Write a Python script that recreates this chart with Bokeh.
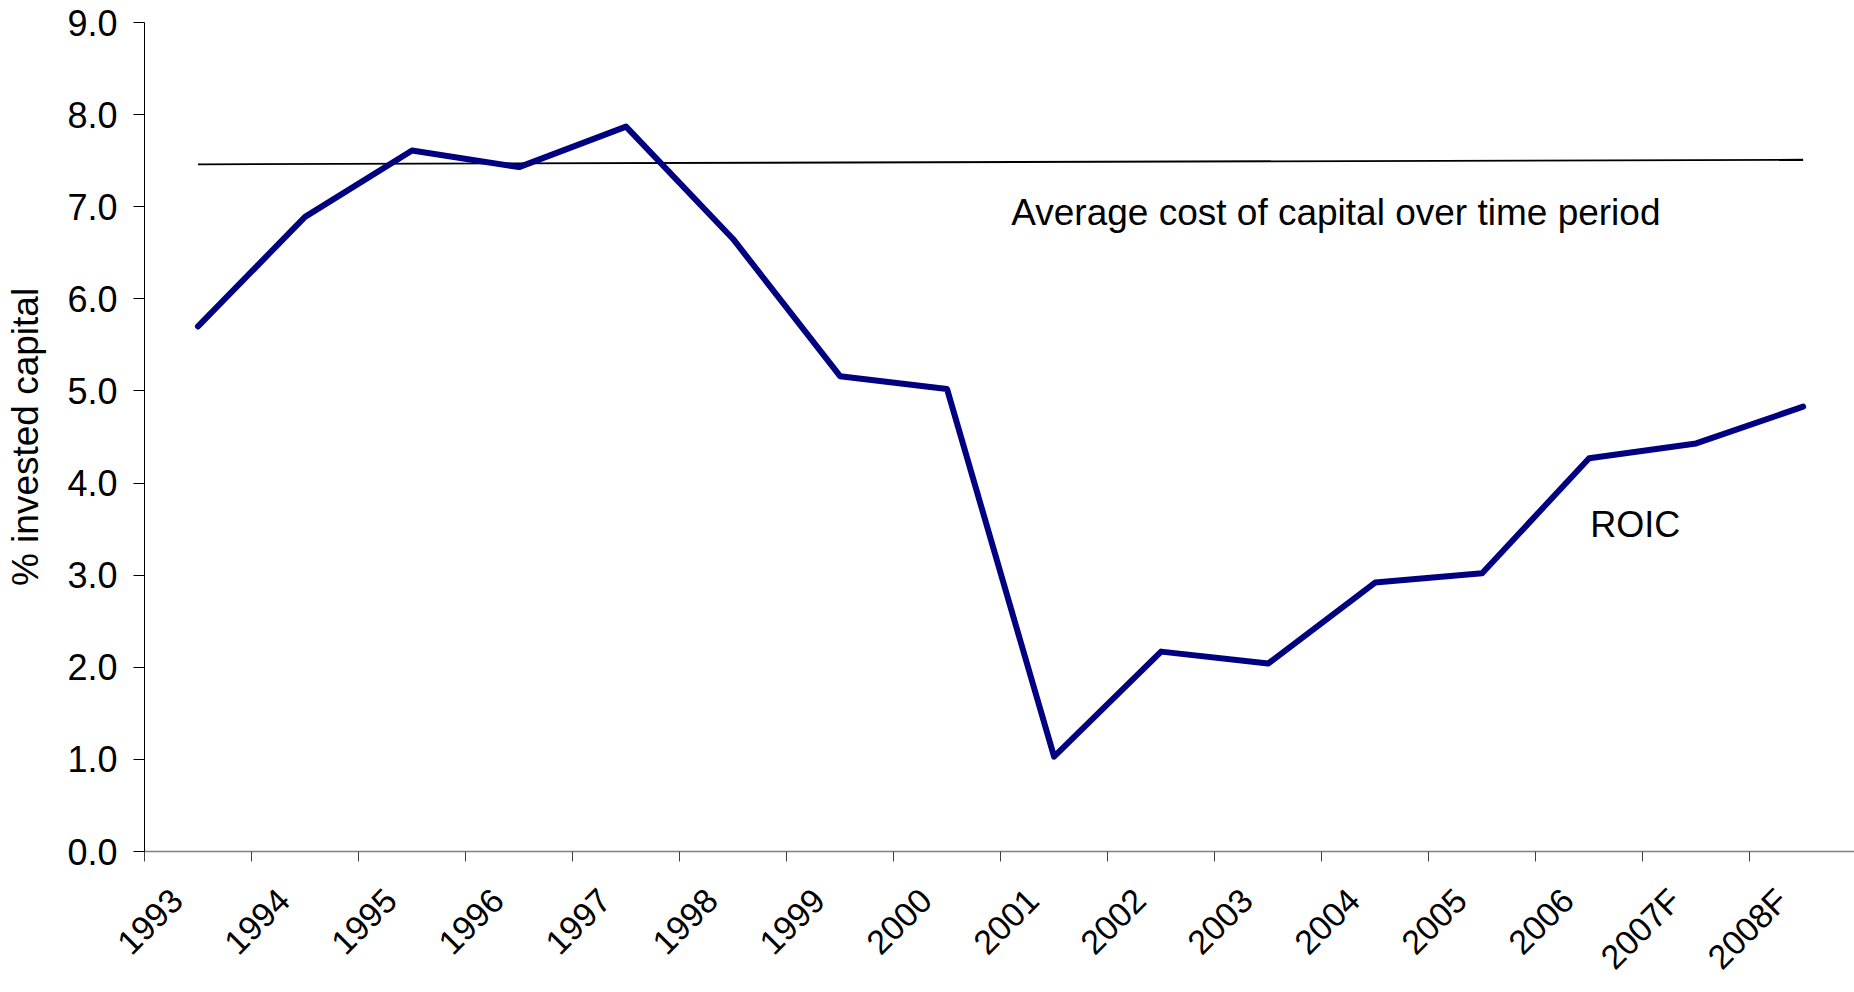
import math
from bokeh.plotting import figure
from bokeh.models import Range1d, FixedTicker, Label, PrintfTickFormatter
from bokeh.embed import file_html
from bokeh.resources import INLINE

# ---- data ----
years = ["1993", "1994", "1995", "1996", "1997", "1998", "1999", "2000",
         "2001", "2002", "2003", "2004", "2005", "2006", "2007F", "2008F"]
roic = [5.70, 6.89, 7.61, 7.43, 7.87, 6.65, 5.16, 5.02,
        1.03, 2.17, 2.04, 2.92, 3.02, 4.27, 4.43, 4.83]
coc_years = ["1993", "2008F"]
coc = [7.46, 7.51]
y_ticks = [0, 1, 2, 3, 4, 5, 6, 7, 8, 9]

FONT = "Liberation Sans"
LABEL_SHIFT = 0.2  # rotated labels end a little left of the category centre

centers = [i + 0.5 for i in range(len(years))]
boundaries = [i for i in range(len(years) + 1)]
label_pos = [round(c - LABEL_SHIFT, 3) for c in centers]
coc_x = [years.index(y) + 0.5 for y in coc_years]

p = figure(width=1854, height=992,
           x_range=Range1d(0, 15.98), y_range=Range1d(0, 9),
           output_backend="svg", toolbar_location=None,
           min_border_left=144, min_border_right=0,
           min_border_top=22, min_border_bottom=0)
p.outline_line_color = None
p.grid.visible = False
p.background_fill_color = "white"
p.border_fill_color = "white"

# y axis
ya = p.yaxis[0]
ya.ticker = FixedTicker(ticks=y_ticks, minor_ticks=[])
ya.formatter = PrintfTickFormatter(format="%.1f")
ya.major_tick_out = 11
ya.major_tick_in = 0
ya.minor_tick_out = 0
ya.minor_tick_in = 0
ya.axis_line_color = "black"
ya.major_tick_line_color = "black"
ya.major_label_standoff = 16
ya.major_label_text_font = FONT
ya.major_label_text_font_size = "36px"
ya.major_label_text_color = "black"
ya.axis_label = "% invested capital"
ya.axis_label_text_font = FONT
ya.axis_label_text_font_size = "37px"
ya.axis_label_text_font_style = "normal"
ya.axis_label_text_color = "black"
ya.axis_label_standoff = 18

# x axis: tick marks (minor) at category boundaries, rotated labels near centres
xa = p.xaxis[0]
xa.ticker = FixedTicker(ticks=label_pos, minor_ticks=boundaries)
xa.major_label_overrides = {lp: y for lp, y in zip(label_pos, years)}
xa.major_tick_out = 0
xa.major_tick_in = 0
xa.minor_tick_out = 10
xa.minor_tick_in = 0
xa.minor_tick_line_color = "#404040"
xa.axis_line_color = "#808080"
xa.axis_line_width = 1.5
xa.major_label_orientation = math.pi / 4
xa.major_label_standoff = 33
xa.major_label_text_font = FONT
xa.major_label_text_font_size = "34px"
xa.major_label_text_color = "black"

# lines
p.line(coc_x, coc, line_color="black", line_width=1.8)
p.line(centers, roic, line_color="#000080", line_width=6,
       line_join="round", line_cap="round")

p.add_layout(Label(x=8.1, y=6.94, text="Average cost of capital over time period",
                   text_font=FONT, text_font_size="37px", text_color="black",
                   text_baseline="alphabetic", text_align="left"))
p.add_layout(Label(x=13.51, y=3.55, text="ROIC",
                   text_font=FONT, text_font_size="36px", text_color="black",
                   text_baseline="alphabetic", text_align="left"))

open("out.html", "w").write(file_html(p, INLINE))
